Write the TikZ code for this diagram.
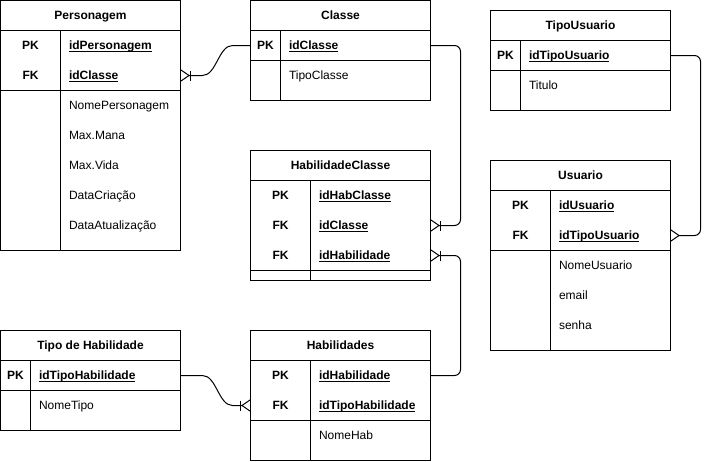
\documentclass[tikz,border=0pt]{standalone}
\usepackage{fontspec}
\setmainfont{Liberation Sans}
\usepackage{tikz}
\usetikzlibrary{positioning}
\usetikzlibrary{arrows.meta}
\usetikzlibrary{calc}
\newcommand{\erfont}{\fontsize{12pt}{14pt}\selectfont}
\newlength{\ulwd}
\newcommand{\ulf}[1]{\settowidth{\ulwd}{#1}\rlap{\rule[-2pt]{\ulwd}{0.8pt}}#1}

\begin{document}
\begin{tikzpicture}[
    x=1pt, y=-1pt, line width=1pt,
    tbl/.style={rectangle, draw, minimum width=180pt, inner sep=0pt, outer sep=0pt, anchor=north west},
    hdr/.style={tbl, minimum height=30pt, font=\erfont\bfseries, text height=8.6pt, text depth=0pt},
    txt/.style={inner sep=0pt, text height=8.6pt, text depth=0pt, font=\erfont},
    key/.style={txt, font=\erfont\bfseries},
    fld/.style={txt, anchor=west},
    pk/.style={fld, font=\erfont\bfseries},
    crowone/.style={-{Bar[width=10pt,line width=1pt] Straight Barb[reversed,length=8pt,width=11pt,line width=1pt]}},
    crowmany/.style={-{Straight Barb[reversed,length=8pt,width=11pt,line width=1pt]}}
]
\useasboundingbox (-0.5,-0.5) rectangle (708.5,460.5);

% Personagem
\node[hdr] (per) at (0,0) {Personagem};
\node[tbl, minimum height=60pt, below=0pt of per] (per-keys) {};
\node[tbl, minimum height=160pt, below=0pt of per-keys] (per-atts) {};
\draw ([xshift=60pt]per-keys.north west) -- ([xshift=60pt]per-atts.south west);
\node[key] (per-pkl) at (30,45) {PK};
\node[pk] (per-id) at (68,45) {\ulf{idPersonagem}};
\node[key] (per-fkl) at (30,75) {FK};
\node[pk] (per-idcl) at (68,75) {\ulf{idClasse}};
\node[fld] (per-nome) at (68,105) {NomePersonagem};
\node[fld] (per-mana) at (68,135) {Max.Mana};
\node[fld] (per-vida) at (68,165) {Max.Vida};
\node[fld] (per-cria) at (68,195) {DataCriação};
\node[fld] (per-atua) at (68,225) {DataAtualização};

% Classe
\node[hdr] (cls) at (250,0) {Classe};
\node[tbl, minimum height=30pt, below=0pt of cls] (cls-keys) {};
\node[tbl, minimum height=40pt, below=0pt of cls-keys] (cls-atts) {};
\draw ([xshift=30pt]cls-keys.north west) -- ([xshift=30pt]cls-atts.south west);
\node[key] (cls-pkl) at (265,45) {PK};
\node[pk] (cls-id) at (288,45) {\ulf{idClasse}};
\node[fld] (cls-tipo) at (288,75) {TipoClasse};

% TipoUsuario
\node[hdr] (tu) at (490,10) {TipoUsuario};
\node[tbl, minimum height=30pt, below=0pt of tu] (tu-keys) {};
\node[tbl, minimum height=40pt, below=0pt of tu-keys] (tu-atts) {};
\draw ([xshift=30pt]tu-keys.north west) -- ([xshift=30pt]tu-atts.south west);
\node[key] (tu-pkl) at (505,55) {PK};
\node[pk] (tu-id) at (528,55) {\ulf{idTipoUsuario}};
\node[fld] (tu-tit) at (528,85) {Titulo};

% HabilidadeClasse
\node[hdr] (hc) at (250,150) {HabilidadeClasse};
\node[tbl, minimum height=90pt, below=0pt of hc] (hc-keys) {};
\node[tbl, minimum height=10pt, below=0pt of hc-keys] (hc-atts) {};
\draw ([xshift=60pt]hc-keys.north west) -- ([xshift=60pt]hc-atts.south west);
\node[key] (hc-pkl) at (280,195) {PK};
\node[pk] (hc-id) at (318,195) {\ulf{idHabClasse}};
\node[key] (hc-fkl1) at (280,225) {FK};
\node[pk] (hc-idcl) at (318,225) {\ulf{idClasse}};
\node[key] (hc-fkl2) at (280,255) {FK};
\node[pk] (hc-idhab) at (318,255) {\ulf{idHabilidade}};

% Usuario
\node[hdr] (usu) at (490,160) {Usuario};
\node[tbl, minimum height=60pt, below=0pt of usu] (usu-keys) {};
\node[tbl, minimum height=100pt, below=0pt of usu-keys] (usu-atts) {};
\draw ([xshift=60pt]usu-keys.north west) -- ([xshift=60pt]usu-atts.south west);
\node[key] (usu-pkl) at (520,205) {PK};
\node[pk] (usu-id) at (558,205) {\ulf{idUsuario}};
\node[key] (usu-fkl) at (520,235) {FK};
\node[pk] (usu-idtu) at (558,235) {\ulf{idTipoUsuario}};
\node[fld] (usu-nome) at (558,265) {NomeUsuario};
\node[fld] (usu-mail) at (558,295) {email};
\node[fld] (usu-senha) at (558,325) {senha};

% Tipo de Habilidade
\node[hdr] (th) at (0,330) {Tipo de Habilidade};
\node[tbl, minimum height=30pt, below=0pt of th] (th-keys) {};
\node[tbl, minimum height=40pt, below=0pt of th-keys] (th-atts) {};
\draw ([xshift=30pt]th-keys.north west) -- ([xshift=30pt]th-atts.south west);
\node[key] (th-pkl) at (15,375) {PK};
\node[pk] (th-id) at (38,375) {\ulf{idTipoHabilidade}};
\node[fld] (th-nome) at (38,405) {NomeTipo};

% Habilidades
\node[hdr] (hab) at (250,330) {Habilidades};
\node[tbl, minimum height=60pt, below=0pt of hab] (hab-keys) {};
\node[tbl, minimum height=40pt, below=0pt of hab-keys] (hab-atts) {};
\draw ([xshift=60pt]hab-keys.north west) -- ([xshift=60pt]hab-atts.south west);
\node[key] (hab-pkl) at (280,375) {PK};
\node[pk] (hab-id) at (318,375) {\ulf{idHabilidade}};
\node[key] (hab-fkl) at (280,405) {FK};
\node[pk] (hab-idth) at (318,405) {\ulf{idTipoHabilidade}};
\node[fld] (hab-nome) at (318,435) {NomeHab};

% Relations
\draw[crowone] (cls-keys.west |- cls-id) -- ++(-18,0)
    .. controls +(-14,0) and +(14,0) .. ($(per-keys.east |- per-idcl)+(22,0)$)
    -- (per-keys.east |- per-idcl);
\draw[crowone, rounded corners=6pt] (cls-keys.east |- cls-id) -- ++(30,0) |- (hc-keys.east |- hc-idcl);
\draw[crowone, rounded corners=6pt] (hab-keys.east |- hab-id) -- ++(30,0) |- (hc-keys.east |- hc-idhab);
\draw[crowmany, rounded corners=6pt] (tu-keys.east |- tu-id) -- ++(30,0) |- (usu-keys.east |- usu-idtu);
\draw[crowone] (th-keys.east |- th-id) -- ++(22,0)
    .. controls +(14,0) and +(-14,0) .. ($(hab-keys.west |- hab-idth)+(-18,0)$)
    -- (hab-keys.west |- hab-idth);
\end{tikzpicture}
\end{document}
